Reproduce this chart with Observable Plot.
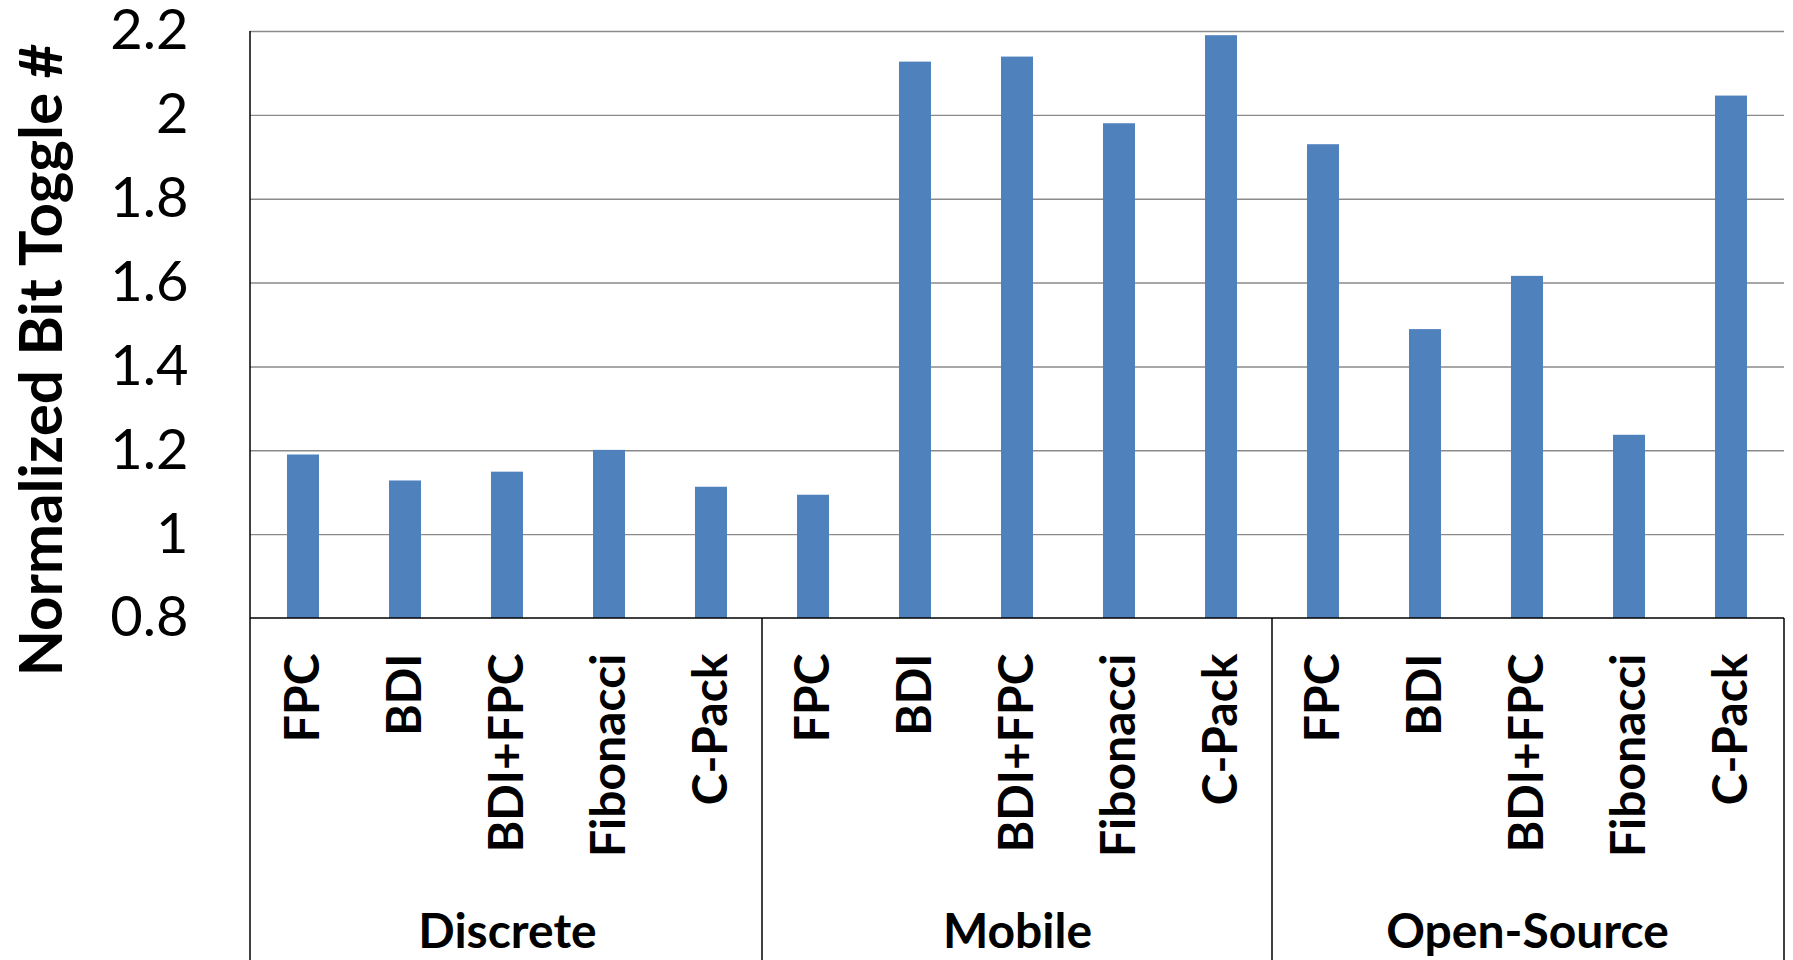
<!DOCTYPE html>
<html>
<head>
<meta charset="utf-8">
<script src="https://cdn.jsdelivr.net/npm/d3@7"></script>
<script src="https://cdn.jsdelivr.net/npm/@observablehq/plot@0.6"></script>
<style>
  html, body { margin: 0; padding: 0; background: #fff; }
  #chart svg { display: block; }
</style>
</head>
<body>
<div id="chart"></div>
<script>
// Workload groups and compression schemes
const groups = ["Discrete", "Mobile", "Open-Source"];
const methods = ["FPC", "BDI", "BDI+FPC", "Fibonacci", "C-Pack"];

// Normalized bit toggle count per scheme, one array per workload group
const discrete = [1.190, 1.128, 1.149, 1.201, 1.113];
const mobile = [1.094, 2.127, 2.139, 1.980, 2.190];
const openSource = [1.930, 1.489, 1.616, 1.237, 2.046];

// Value axis ticks and title
const yTicks = [0.8, 1, 1.2, 1.4, 1.6, 1.8, 2, 2.2];
const yTitle = "Normalized Bit Toggle #";

const seriesByGroup = [discrete, mobile, openSource];
const rows = groups.flatMap((group, gi) =>
  methods.map((method, mi) => ({
    group,
    method,
    key: `${group}|${method}`,
    value: seriesByGroup[gi][mi]
  }))
);
const keys = rows.map(d => d.key);
const yMin = yTicks[0];
const yMax = yTicks[yTicks.length - 1];
const font = "Lato, 'Open Sans', sans-serif";

// Axis line, category table borders and group dividers below the bars
function categoryTable(index, scales, values, dimensions) {
  const x = scales.x, y = scales.y;
  const bw = x.bandwidth();
  const centers = keys.map(k => x(k) + bw / 2);
  const left = dimensions.marginLeft;
  const right = dimensions.width - dimensions.marginRight;
  const base = y(yMin), top = y(yMax), bottom = dimensions.height;
  const g = d3.create("svg:g")
    .attr("stroke", "#000")
    .attr("stroke-width", 1.5)
    .attr("fill", "none");
  const line = (x1, y1, x2, y2) =>
    g.append("line").attr("x1", x1).attr("y1", y1).attr("x2", x2).attr("y2", y2);
  line(left, base, right, base);
  line(left, top, left, bottom);
  line(right, base, right, bottom);
  for (let gi = 1; gi < groups.length; ++gi) {
    const i = gi * methods.length;
    const xb = (centers[i - 1] + centers[i]) / 2;
    line(xb, base, xb, bottom);
  }
  return g.node();
}

const chart = Plot.plot({
  width: 1793,
  height: 960,
  marginLeft: 250,
  marginRight: 9,
  marginTop: 31,
  marginBottom: 342,
  style: { fontFamily: font, background: "#fff", color: "#000" },
  x: {
    type: "band",
    domain: keys,
    paddingInner: 0.687,
    paddingOuter: 0.3435,
    axis: null
  },
  y: {
    domain: [yMin, yMax],
    axis: null
  },
  marks: [
    Plot.ruleY(yTicks.slice(1), { stroke: "#8a8a8a", strokeWidth: 1.4 }),
    Plot.barY(rows, { x: "key", y1: yMin, y2: "value", fill: "#4f81bd" }),
    Plot.axisY(yTicks, {
      tickSize: 0,
      tickPadding: 62,
      tickFormat: d => String(d),
      fontSize: 56,
      fontFamily: font,
      label: null
    }),
    Plot.text([yTitle], {
      text: d => d,
      frameAnchor: "left",
      textAnchor: "middle",
      rotate: -90,
      dx: -208,
      dy: 35,
      fontSize: 60,
      fontWeight: "bold",
      fontFamily: font,
      fill: "#000"
    }),
    Plot.text(rows, {
      x: "key",
      y: yMin,
      text: "method",
      rotate: -90,
      textAnchor: "end",
      dy: 35,
      fontSize: 48,
      fontWeight: "bold",
      fontFamily: font,
      fill: "#000"
    }),
    Plot.text(groups, {
      x: g => `${g}|${methods[2]}`,
      y: yMin,
      text: d => d,
      dy: 314,
      fontSize: 48,
      fontWeight: "bold",
      fontFamily: font,
      fill: "#000"
    }),
    categoryTable
  ]
});

document.getElementById("chart").appendChild(chart);
</script>
</body>
</html>
